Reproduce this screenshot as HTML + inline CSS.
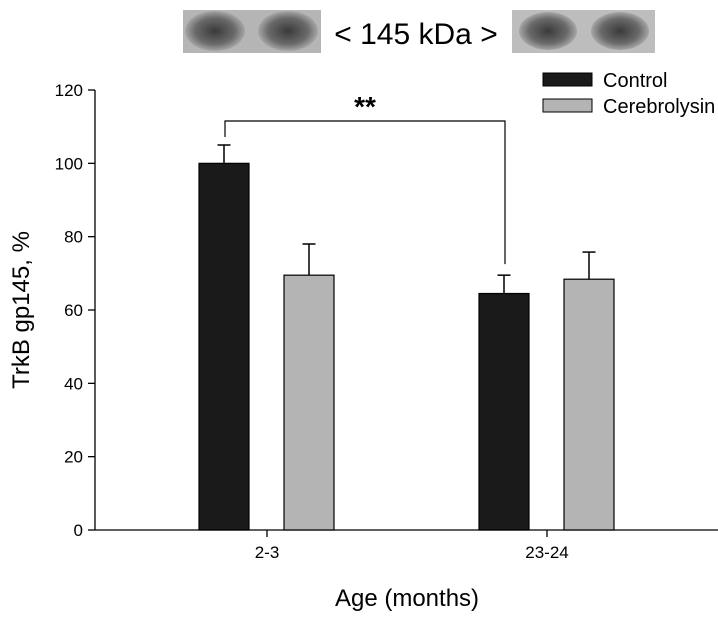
<!DOCTYPE html>
<html><head><meta charset="utf-8"><style>
body{margin:0;background:#fff;}
svg text{font-family:"Liberation Sans",Arial,sans-serif;fill:#000;}
</style></head><body>
<svg width="718" height="614" xmlns="http://www.w3.org/2000/svg">
<defs>
<radialGradient id="blob" cx="50%" cy="50%" r="55%">
<stop offset="0" stop-color="#3a3a3a"/><stop offset="0.6" stop-color="#6a6a6a"/><stop offset="1" stop-color="#b8b8b8"/>
</radialGradient>
</defs>
<g>
<rect x="183" y="10" width="138" height="43" fill="#b5b5b5"/>
<ellipse cx="215" cy="31" rx="30" ry="20" fill="url(#blob)"/>
<ellipse cx="288" cy="31" rx="30" ry="20" fill="url(#blob)"/>
</g>
<text x="416" y="44" font-size="30" text-anchor="middle">&lt; 145 kDa &gt;</text>
<g>
<rect x="512" y="10" width="143" height="43" fill="#bdbdbd"/>
<ellipse cx="548" cy="31" rx="29" ry="19" fill="url(#blob)"/>
<ellipse cx="620" cy="31" rx="29" ry="19" fill="url(#blob)"/>
</g>
<g id="plot"></g>
<script>
const categories=["2-3","23-24"];
const controlValues=[100,64.5];
const controlErrors=[5,5];
const cerebValues=[69.5,68.4];
const cerebErrors=[8.5,7.4];
const yTicks=[0,20,40,60,80,100,120];
(function(){
const NS="http://www.w3.org/2000/svg";
const g=document.getElementById('plot');
const x0=95,x1=718,yb=530,yt=90,ymax=120;
const y=v=>yb-(yb-yt)*v/ymax;
const cx=i=>267+i*280;
function mk(t,a,txt){const e=document.createElementNS(NS,t);for(const k in a)e.setAttribute(k,a[k]);if(txt!==undefined)e.textContent=txt;g.appendChild(e);return e;}
let e=mk('line',{x1:x0,y1:yt,x2:x0,y2:yb,stroke:'#000','stroke-width':1.3});

e=mk('line',{x1:x0,y1:yb,x2:x1,y2:yb,stroke:'#000','stroke-width':1.3});

yTicks.forEach(t=>{
 e=mk('line',{x1:x0-7,y1:y(t),x2:x0,y2:y(t),stroke:'#000','stroke-width':1.3});
 
 e=mk('text',{x:x0-12,y:y(t)+6,'font-size':17,'text-anchor':'end'},t);
 
});
categories.forEach((c,i)=>{
 e=mk('line',{x1:cx(i),y1:yb,x2:cx(i),y2:yb+7,stroke:'#000','stroke-width':1.3});
 
 e=mk('text',{x:cx(i),y:yb+28,'font-size':17,'text-anchor':'middle'},c);
 
 [[controlValues,controlErrors,'#1a1a1a',-68,'control'],[cerebValues,cerebErrors,'#b4b4b4',17,'cerebrolysin']].forEach(s=>{
  const bx=cx(i)+s[3],bw=50,v=s[0][i],er=s[1][i],mid=bx+bw/2;
  e=mk('line',{x1:mid,y1:y(v),x2:mid,y2:y(v+er),stroke:'#000','stroke-width':1.5});
  
  e=mk('line',{x1:mid-6.5,y1:y(v+er),x2:mid+6.5,y2:y(v+er),stroke:'#000','stroke-width':1.5});
  
  e=mk('rect',{x:bx,y:y(v),width:bw,height:yb-y(v),fill:s[2],stroke:'#000','stroke-width':1.2});
  
 });
});
const by=121,lx=cx(0)-42,rx=cx(1)-42;
e=mk('path',{d:`M${lx} ${y(controlValues[0]+controlErrors[0])-8}V${by}H${rx}V${y(controlValues[1]+controlErrors[1])-11}`,fill:'none',stroke:'#000','stroke-width':1.2});

e=mk('text',{x:(lx+rx)/2,y:116,'font-size':28,'font-weight':'bold','text-anchor':'middle'},'**');

})();
</script>
<text x="0" y="0" transform="translate(29 310) rotate(-90)" font-size="24" text-anchor="middle">TrkB gp145, %</text>
<text x="407" y="606" font-size="24" text-anchor="middle">Age (months)</text>
<g>
<rect x="543" y="73" width="49" height="13" fill="#1a1a1a" stroke="#000"/>
<text x="603" y="87" font-size="20">Control</text>
<rect x="543" y="99" width="49" height="13" fill="#b4b4b4" stroke="#000"/>
<text x="603" y="113" font-size="20">Cerebrolysin</text>
</g>
</svg>
</body></html>
